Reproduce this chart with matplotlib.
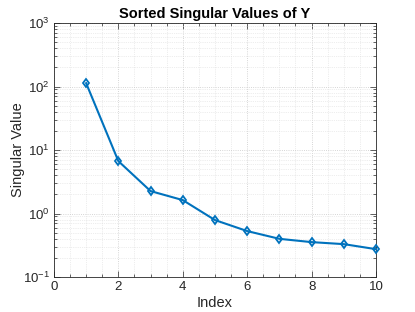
import matplotlib
matplotlib.use("Agg")
import matplotlib.pyplot as plt
from matplotlib.ticker import MultipleLocator, LogLocator, NullFormatter

plt.rcParams['font.family'] = ['Liberation Sans', 'DejaVu Sans']
plt.rcParams['mathtext.fontset'] = 'custom'
plt.rcParams['mathtext.rm'] = 'Liberation Sans'
plt.rcParams['mathtext.it'] = 'Liberation Sans'

index = [1, 2, 3, 4, 5, 6, 7, 8, 9, 10]
singular_values = [113, 6.7, 2.26, 1.63, 0.79, 0.53, 0.40, 0.355, 0.33, 0.275]
xticks = [0, 2, 4, 6, 8, 10]
yticks = [0.1, 1, 10, 100, 1000]
ytick_labels = ['$10^{-1}$', '$10^{0}$', '$10^{1}$', '$10^{2}$', '$10^{3}$']

color = '#0072BD'
fig = plt.figure(figsize=(4.15, 3.12), dpi=100)
ax = fig.add_axes([0.130, 0.112, 0.776, 0.814])
ax.plot(index, singular_values, '-d', color=color, linewidth=1.5,
        markersize=4.5, markerfacecolor='none', markeredgewidth=1.3, clip_on=False, zorder=3)
ax.set_yscale('log')
ax.set_xlim(0, 10)
ax.set_ylim(0.1, 1000)
ax.set_xticks(xticks)
ax.set_xticklabels([str(t) for t in xticks])
ax.xaxis.set_minor_locator(MultipleLocator(0.5))
ax.set_yticks(yticks)
ax.set_yticklabels(ytick_labels)
ax.yaxis.set_minor_locator(LogLocator(base=10, subs=range(2, 10)))
ax.yaxis.set_minor_formatter(NullFormatter())

ax.grid(True, which='major', linestyle=':', color='#c8c8c8', linewidth=0.6)
ax.grid(True, which='minor', linestyle=':', color='#dcdcdc', linewidth=0.5)
ax.set_axisbelow(True)

ax.tick_params(which='both', direction='in', top=True, right=True, colors='#262626',
               labelsize=9.5, width=0.5, pad=3)
ax.tick_params(which='major', length=4)
ax.tick_params(which='minor', length=2)
for s in ax.spines.values():
    s.set_color('#262626')
    s.set_linewidth(0.6)

ax.set_xlabel('Index', fontsize=10.5, color='#262626', labelpad=2)
ax.set_ylabel('Singular Value', fontsize=10.5, color='#262626')
ax.yaxis.set_label_coords(-0.09, 0.5)
ax.set_title('Sorted Singular Values of Y', fontsize=10.5, fontweight='bold', color='black', pad=4)

fig.savefig('out.png', dpi=100)
